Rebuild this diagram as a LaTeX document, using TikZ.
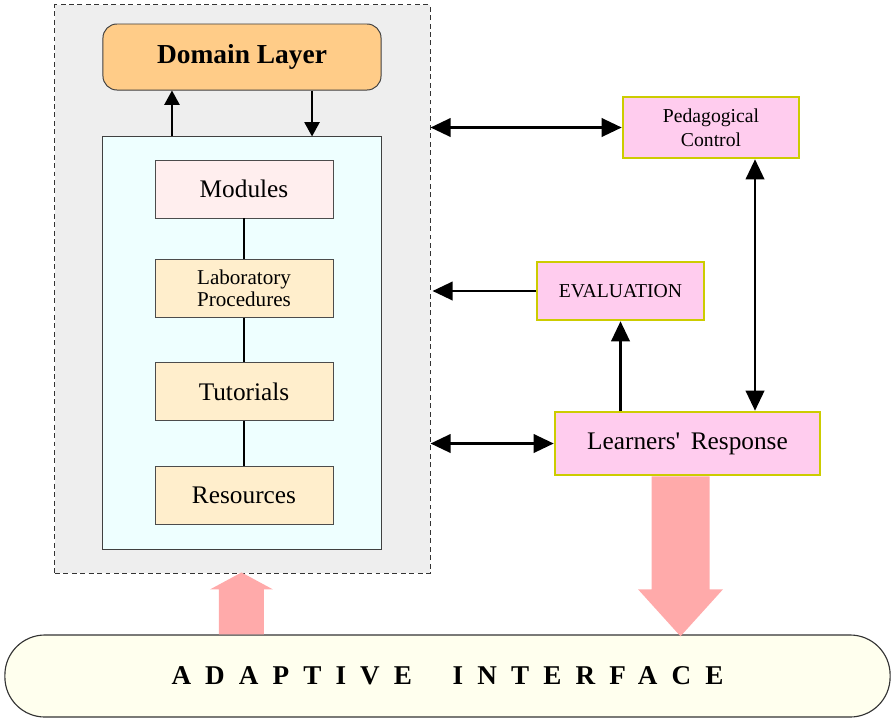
\documentclass[tikz,border=0pt]{standalone}
\usepackage{fontspec}
\setmainfont{Liberation Serif}
\usetikzlibrary{arrows.meta}

\definecolor{framegray}{HTML}{EEEEEE}
\definecolor{layerorange}{HTML}{FFCC88}
\definecolor{unitcyan}{HTML}{EEFFFF}
\definecolor{modpink}{HTML}{FFEEEE}
\definecolor{unitcream}{HTML}{FFEECC}
\definecolor{ctrlpink}{HTML}{FFCCEE}
\definecolor{ctrlyellow}{HTML}{CCCC00}
\definecolor{flowpink}{HTML}{FFAAAA}
\definecolor{ifaceyellow}{HTML}{FFFFEE}

\begin{document}
\begin{tikzpicture}[
    x=0.025cm, y=-0.025cm,
    % Styles
    outerframe/.style={draw=black!80, line width=0.7pt, dash pattern=on 3.5pt off 2.5pt, fill=framegray, minimum width=9.375cm, minimum height=14.2cm},
    layerbox/.style={draw=black!75, line width=0.7pt, fill=layerorange, rounded corners=0.35cm, minimum width=6.95cm, minimum height=1.65cm, font=\fontsize{19.5}{22}\selectfont\bfseries},
    unitframe/.style={draw=black!75, line width=0.7pt, fill=unitcyan, minimum width=6.95cm, minimum height=10.3cm},
    unitbox/.style={draw=black!70, line width=0.6pt, fill=unitcream, minimum width=4.45cm, minimum height=1.45cm, align=center, font=\fontsize{18}{20}\selectfont},
    ctrlbox/.style={draw=ctrlyellow, line width=1.8pt, fill=ctrlpink, align=center, font=\fontsize{14}{17}\selectfont},
    smallarr/.style={line width=1.4pt, -{Triangle[length=0.36cm, width=0.38cm]}},
    arr/.style={line width=1.7pt, -{Triangle[length=0.5cm, width=0.46cm]}},
    dblarr/.style={line width=1.7pt, {Triangle[length=0.5cm, width=0.46cm]}-{Triangle[length=0.5cm, width=0.46cm]}},
    flow/.style={draw=none, fill=flowpink}
]
    \useasboundingbox (0,0) rectangle (892,718);

    % ==========================================
    % DOMAIN (dashed frame)
    % ==========================================
    \node[outerframe] (frame) at (242.5,289) {};
    \node[layerbox] (domain) at (242,57) {Domain Layer};
    \node[unitframe] (units) at (242,343) {};

    \node[unitbox, fill=modpink] (modules) at (244,189) {Modules};
    \node[unitbox, font=\fontsize{15}{16}\selectfont] (lab) at (244,288.5) {Laboratory\\Procedures};
    \node[unitbox] (tutorials) at (244,391.5) {Tutorials};
    \node[unitbox] (resources) at (244,495.5) {Resources};

    \draw[line width=1.4pt] (modules) -- (lab) -- (tutorials) -- (resources);

    \draw[smallarr] ([xshift=-1.75cm]units.north) -- ([xshift=-1.75cm]domain.south);
    \draw[smallarr] ([xshift=1.75cm]domain.south) -- ([xshift=1.75cm]units.north);

    % ==========================================
    % CONTROL
    % ==========================================
    \node[ctrlbox, minimum width=4.4cm, minimum height=1.525cm] (control) at (711,127.5) {Pedagogical\\Control};
    \node[ctrlbox, minimum width=4.175cm, minimum height=1.45cm] (evaluation) at (620.5,291) {EVALUATION};
    \node[ctrlbox, minimum width=6.625cm, minimum height=1.575cm, font=\fontsize{18}{20}\selectfont] (response) at (687.5,443.5) {Learners\textquotesingle\ \,Response};

    \draw[dblarr] (frame.east |- control.west) -- (control.west);
    \draw[arr] (evaluation.west) -- ([xshift=0.05cm]frame.east |- evaluation.west);
    \draw[dblarr] (frame.east |- response.west) -- (response.west);
    \draw[arr] (evaluation.south |- response.north) -- (evaluation.south);
    \draw[dblarr] ([xshift=1.1cm]control.south) -- ([xshift=1.1cm]control.south |- response.north);

    % ==========================================
    % ADAPTIVE INTERFACE
    % ==========================================
    \node[draw=black!80, line width=0.8pt, fill=ifaceyellow, rounded corners=1cm, minimum width=22.125cm, minimum height=2.05cm,
          font=\fontsize{19.3}{22}\selectfont\bfseries\addfontfeature{LetterSpace=52}] (iface) at (447.5,676) {ADAPTIVE\hspace{1.5em}INTERFACE};

    % big flow arrows
    \fill[flow] ([xshift=-0.9cm]response.south) -- ++(58,0) -- ++(0,113) -- ++(13.5,0)
        -- ++(-42.5,47) -- ++(-42.5,-47) -- ++(13.5,0) -- cycle;
    \fill[flow] ([xshift=-0.5875cm]frame.south |- iface.north) -- ++(45,0) -- ++(0,-45) -- ++(9,0)
        -- ++(-31.5,-17) -- ++(-31.5,17) -- ++(9,0) -- cycle;

\end{tikzpicture}
\end{document}
